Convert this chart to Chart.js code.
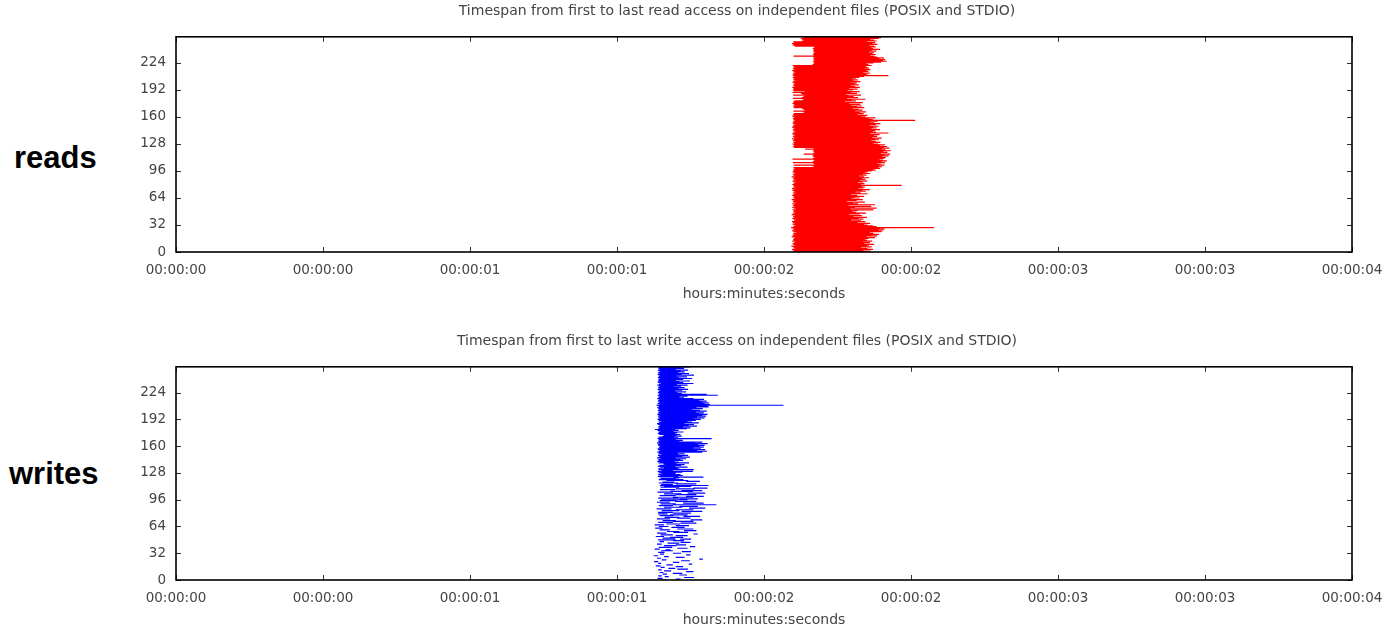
<!DOCTYPE html>
<html lang="en">
<head>
    <meta charset="UTF-8">
    <title>Timespan from first to last access</title>
    <script src="https://cdn.jsdelivr.net/npm/chart.js"></script>
    <style>
        * {
            margin: 0;
            padding: 0;
            box-sizing: border-box;
        }

        body {
            width: 1383px;
            height: 629px;
            background: white;
            overflow: hidden;
            position: relative;
            font-family: 'Liberation Sans', Arial, sans-serif;
        }

        .side-label {
            position: absolute;
            font-weight: bold;
            font-size: 31px;
            color: #000;
        }

        canvas {
            position: absolute;
            left: 0;
        }
    </style>
</head>
<body>
    <div class="side-label" style="left: 14px; top: 140px;">reads</div>
    <div class="side-label" style="left: 9px; top: 456px;">writes</div>

    <canvas id="readChart" width="1383" height="303" style="top: 0;"></canvas>
    <canvas id="writeChart" width="1383" height="299" style="top: 330px;"></canvas>

    <script>
        // Per-rank first and last access time, in milliseconds (rank = index)
        const readStartMs = [
            2104,2098,2101,2095,2107,2102,2099,2093,2105,2100,2097,2103,2108,2096,2101,2099,
            2102,2106,2094,2100,2097,2104,2099,2110,2101,2096,2103,2098,2105,2092,2100,2107,
            2101,2097,2104,2099,2095,2102,2108,2100,2096,2103,2099,2105,2094,2101,2098,2106,
            2100,2103,2097,2109,2101,2095,2104,2099,2102,2096,2107,2100,2098,2103,2094,2101,
            2105,2099,2102,2096,2100,2104,2098,2107,2101,2097,2103,2095,2100,2106,2099,2102,
            2096,2103,2100,2108,2097,2101,2105,2099,2102,2094,2104,2100,2098,2106,2101,2097,
            2103,2099,2102,2104,2100,2170,2165,2101,2172,2168,2098,2166,2171,2169,2097,2167,
            2173,2168,2165,2170,2135,2167,2172,2169,2166,2171,2140,2168,2102,2099,2104,2100,
            2097,2103,2100,2106,2099,2102,2095,2104,2101,2098,2105,2100,2096,2103,2099,2107,
            2101,2098,2104,2100,2095,2102,2099,2106,2100,2097,2103,2099,2105,2101,2098,2104,
            2100,2096,2103,2099,2102,2138,2132,2100,2140,2135,2130,2102,2099,2106,2100,2103,
            2097,2101,2100,2103,2130,2136,2098,2128,2134,2140,2099,2132,2126,2097,2138,2101,
            2098,2103,2100,2096,2104,2101,2099,2105,2102,2097,2100,2106,2099,2103,2101,2098,
            2104,2100,2097,2102,2099,2105,2101,2096,2103,2100,2098,2104,2101,2097,2165,2170,
            2168,2172,2166,2171,2169,2167,2173,2168,2100,2170,2166,2169,2172,2167,2171,2168,
            2170,2166,2169,2172,2105,2098,2101,2095,2103,2099,2128,2135,2130,2125,2138,2132
        ];
        const readEndMs = [
            2345,2362,2338,2371,2352,2330,2366,2348,2357,2374,2341,2360,2335,2368,2350,2343,
            2356,2378,2349,2385,2366,2391,2372,2360,2398,2404,2388,2410,2395,2578,2383,2370,
            2352,2340,2361,2318,2345,2330,2296,2338,2322,2350,2305,2333,2290,2326,2347,2312,
            2300,2318,2372,2295,2383,2310,2365,2288,2378,2320,2302,2343,2281,2315,2336,2298,
            2325,2308,2340,2317,2296,2352,2329,2311,2346,2335,2360,2322,2338,2344,2331,2468,
            2330,2342,2319,2336,2351,2327,2345,2333,2358,2340,2324,2349,2337,2361,2343,2352,
            2366,2380,2372,2395,2388,2402,2391,2410,2397,2385,2412,2400,2418,2405,2393,2409,
            2415,2402,2424,2410,2429,2398,2420,2406,2431,2413,2400,2426,2408,2419,2395,2411,
            2388,2372,2396,2380,2365,2391,2377,2400,2368,2385,2374,2393,2362,2423,2381,2370,
            2378,2395,2366,2383,2372,2390,2360,2381,2396,2375,2362,2387,2514,2370,2358,2379,
            2345,2330,2352,2318,2339,2326,2347,2310,2335,2322,2302,2341,2316,2333,2298,2328,
            2290,2336,2275,2312,2298,2345,2282,2320,2305,2288,2330,2278,2316,2296,2325,2284,
            2302,2318,2290,2326,2310,2297,2322,2308,2315,2293,2328,2304,2319,2300,2312,2325,
            2340,2423,2352,2346,2360,2338,2355,2349,2362,2343,2357,2351,2345,2366,2356,2348,
            2372,2398,2417,2405,2412,2392,2408,2385,2376,2362,2380,2368,2374,2357,2382,2366,
            2395,2371,2365,2380,2374,2358,2386,2369,2378,2352,2383,2375,2362,2390,2398,2392
        ];
        const writeStartMs = [
            1650,1700,1638,1728,1662,1640,1712,1655,1690,1645,1735,1660,1640,1705,1675,1648,
            1700,1632,1668,1744,1640,1690,1626,1718,1652,1780,1636,1700,1660,1625,1735,1646,
            1690,1640,1720,1650,1665,1628,1705,1642,1748,1660,1700,1636,1672,1716,1645,1690,
            1640,1715,1655,1680,1632,1700,1648,1760,1636,1692,1670,1728,1645,1705,1630,1685,
            1642,1700,1628,1668,1716,1640,1690,1655,1750,1636,1705,1662,1726,1645,1680,1640,
            1690,1640,1720,1652,1700,1635,1745,1660,1712,1642,1690,1648,1725,1636,1698,1645,
            1650,1712,1640,1690,1735,1645,1700,1660,1740,1638,1682,1720,1646,1700,1760,1648,
            1660,1646,1650,1700,1642,1655,1735,1668,1642,1650,1645,1692,1639,1648,1641,1652,
            1641,1645,1638,1652,1643,1640,1660,1647,1639,1644,1662,1658,1641,1646,1637,1643,
            1640,1648,1636,1642,1645,1639,1650,1641,1644,1637,1643,1646,1640,1638,1645,1642,
            1647,1641,1639,1644,1636,1643,1640,1648,1642,1638,1645,1641,1655,1660,1644,1639,
            1643,1640,1646,1638,1629,1641,1645,1639,1643,1647,1640,1636,1644,1641,1650,1642,
            1638,1644,1641,1646,1639,1643,1637,1645,1640,1642,1648,1639,1644,1641,1636,1643,
            1640,1634,1645,1638,1642,1646,1639,1641,1644,1637,1643,1640,1646,1638,1642,1645,
            1639,1643,1641,1647,1638,1644,1640,1642,1645,1637,1643,1649,1641,1638,1644,1640,
            1642,1646,1639,1643,1641,1645,1638,1644,1640,1647,1642,1639,1645,1641,1643,1640
        ];
        const writeEndMs = [
            1668,1716,1655,1762,1676,1652,1738,1670,1722,1658,1760,1684,1652,1742,1698,1662,
            1725,1648,1690,1756,1650,1712,1640,1748,1668,1792,1650,1730,1676,1640,1750,1660,
            1718,1662,1752,1690,1682,1645,1740,1688,1766,1702,1735,1652,1712,1750,1660,1728,
            1700,1752,1698,1725,1660,1740,1690,1775,1668,1742,1712,1770,1680,1760,1655,1730,
            1675,1745,1660,1715,1770,1690,1760,1700,1790,1680,1750,1712,1782,1692,1740,1672,
            1752,1690,1790,1712,1760,1685,1800,1722,1775,1690,1838,1700,1795,1680,1770,1702,
            1740,1775,1710,1760,1795,1700,1770,1720,1800,1690,1758,1790,1698,1765,1808,1712,
            1752,1811,1690,1770,1708,1695,1782,1742,1726,1700,1712,1794,1708,1724,1716,1698,
            1700,1722,1758,1690,1761,1712,1705,1740,1698,1718,1730,1702,1745,1710,1696,1725,
            1716,1735,1700,1748,1722,1742,1710,1730,1706,1790,1806,1772,1800,1785,1760,1795,
            1781,1798,1776,1808,1765,1790,1712,1724,1700,1822,1708,1695,1720,1703,1716,1698,
            1705,1726,1692,1710,1698,1738,1750,1725,1772,1744,1762,1730,1778,1755,1740,1768,
            1785,1760,1798,1772,1803,1790,1808,1778,1795,1768,1805,1782,1756,1792,1770,1812,
            1808,2066,1816,1798,1812,1790,1805,1780,1796,1760,1728,1712,1740,1843,1805,1720,
            1706,1735,1698,1722,1742,1710,1730,1695,1718,1740,1704,1760,1726,1712,1748,1700,
            1725,1755,1710,1738,1703,1762,1720,1745,1708,1730,1716,1742,1700,1728,1712,1750
        ];

        const xTicks = [0, 0.5, 1, 1.5, 2, 2.5, 3, 3.5, 4];
        const yTicks = [0, 32, 64, 96, 128, 160, 192, 224];
        const readTitle = 'Timespan from first to last read access on independent files (POSIX and STDIO)';
        const writeTitle = 'Timespan from first to last write access on independent files (POSIX and STDIO)';
        const xAxisTitle = 'hours:minutes:seconds';

        const FONT = "'DejaVu Sans', sans-serif";
        const TEXT_GRAY = '#444';

        function pad(n) {
            return String(n).padStart(2, '0');
        }

        function hms(value) {
            const total = Math.floor(value);
            const h = Math.floor(total / 3600);
            const m = Math.floor((total % 3600) / 60);
            const s = total % 60;
            return pad(h) + ':' + pad(m) + ':' + pad(s);
        }

        // one horizontal segment per rank, broken apart with a null point
        function segments(starts, ends) {
            const pts = [];
            starts.forEach((s, rank) => {
                const e = ends[rank];
                pts.push({ x: s / 1000, y: rank });
                pts.push({ x: e / 1000, y: rank });
                pts.push({ x: e / 1000, y: null });
            });
            return pts;
        }

        // gnuplot style frame with inward tick marks on all four sides
        const framePlugin = {
            id: 'frame',
            afterDatasetsDraw(chart) {
                const { ctx, chartArea: a, scales: { x, y } } = chart;
                const len = 5;
                ctx.save();
                ctx.strokeStyle = '#333';
                ctx.lineWidth = 1;
                ctx.beginPath();
                x.ticks.forEach(t => {
                    const px = Math.round(x.getPixelForValue(t.value)) + 0.5;
                    ctx.moveTo(px, a.bottom);
                    ctx.lineTo(px, a.bottom - len);
                    ctx.moveTo(px, a.top);
                    ctx.lineTo(px, a.top + len);
                });
                y.ticks.forEach(t => {
                    const py = Math.round(y.getPixelForValue(t.value)) + 0.5;
                    ctx.moveTo(a.left, py);
                    ctx.lineTo(a.left + len, py);
                    ctx.moveTo(a.right, py);
                    ctx.lineTo(a.right - len, py);
                });
                ctx.stroke();
                ctx.strokeStyle = '#000';
                ctx.lineWidth = 1.6;
                ctx.strokeRect(a.left, a.top, a.right - a.left, a.bottom - a.top);
                ctx.restore();
            }
        };

        function makePanel(canvasId, title, starts, ends, color, xAxisHeight) {
            const ctx = document.getElementById(canvasId).getContext('2d');
            return new Chart(ctx, {
                type: 'scatter',
                data: {
                    datasets: [{
                        data: segments(starts, ends),
                        showLine: true,
                        spanGaps: false,
                        borderColor: color,
                        borderWidth: 1.2,
                        pointRadius: 0,
                        pointHoverRadius: 0,
                        tension: 0
                    }]
                },
                options: {
                    responsive: false,
                    animation: false,
                    events: [],
                    layout: { padding: { left: 122, right: 31, top: 0, bottom: 0 } },
                    plugins: {
                        legend: { display: false },
                        tooltip: { enabled: false },
                        title: {
                            display: true,
                            text: title,
                            color: TEXT_GRAY,
                            font: { family: FONT, size: 14, weight: 'normal' },
                            padding: { top: 3, bottom: 17 }
                        }
                    },
                    scales: {
                        x: {
                            type: 'linear',
                            min: 0,
                            max: 4,
                            afterBuildTicks: scale => {
                                scale.ticks = xTicks.map(v => ({ value: v }));
                            },
                            afterFit: scale => {
                                scale.height = xAxisHeight;
                                scale.paddingLeft = 0;
                                scale.paddingRight = 0;
                            },
                            ticks: {
                                color: TEXT_GRAY,
                                font: { family: FONT, size: 13.5 },
                                padding: 2,
                                maxRotation: 0,
                                autoSkip: false,
                                callback: v => hms(v)
                            },
                            grid: { display: false },
                            border: { display: false },
                            title: {
                                display: true,
                                text: xAxisTitle,
                                color: TEXT_GRAY,
                                font: { family: FONT, size: 14 },
                                padding: { top: 0, bottom: 0 }
                            }
                        },
                        y: {
                            type: 'linear',
                            min: 0,
                            max: 255,
                            afterBuildTicks: scale => {
                                scale.ticks = yTicks.map(v => ({ value: v }));
                            },
                            afterFit: scale => {
                                scale.width = 54;
                            },
                            ticks: {
                                color: TEXT_GRAY,
                                font: { family: FONT, size: 13.5 },
                                padding: 2
                            },
                            grid: { display: false },
                            border: { display: false }
                        }
                    }
                },
                plugins: [framePlugin]
            });
        }

        makePanel('readChart', readTitle, readStartMs, readEndMs, '#ff0000', 51);
        makePanel('writeChart', writeTitle, writeStartMs, writeEndMs, '#0000ff', 49);
    </script>
</body>
</html>
